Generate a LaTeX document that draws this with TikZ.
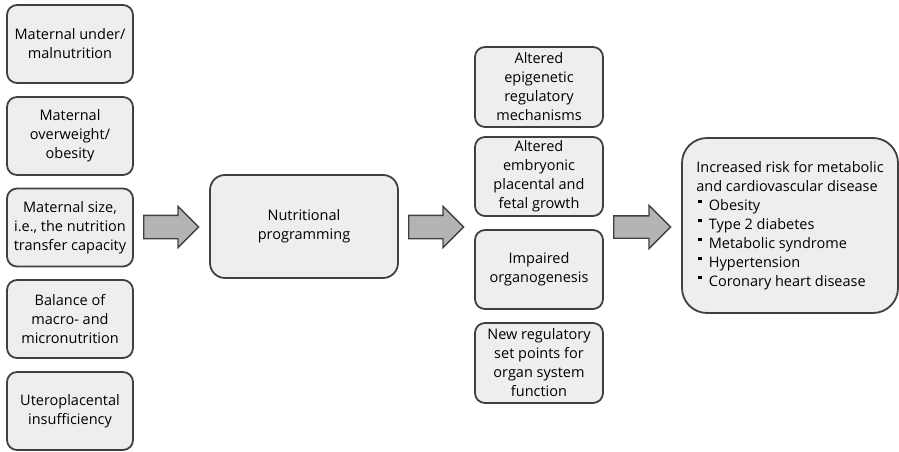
\documentclass[tikz,border=0pt]{standalone}
\usepackage{fontspec}
\setmainfont{Open Sans}
\usetikzlibrary{shapes.arrows}
\definecolor{boxfill}{HTML}{EEEEEE}
\definecolor{boxline}{HTML}{404040}
\definecolor{arrfill}{HTML}{B4B4B4}
\newcommand\mybul{\hspace{2pt}\raisebox{7pt}{\rule{3.5pt}{3.5pt}}\hspace{7pt}}
\begin{document}
\begin{tikzpicture}[x=1pt,y=-1pt,
  box/.style={draw=boxline,line width=1.8pt,fill=boxfill,rounded corners=10pt,
    align=center,inner sep=0pt,font=\fontsize{14.5}{19}\selectfont},
  blockarrow/.style={single arrow,draw=boxline,line width=1.3pt,fill=arrfill,
    inner xsep=0pt,inner ysep=0pt,minimum height=#1,anchor=tail,
    single arrow head extend=9pt,single arrow head indent=0pt,shape border rotate=0}
]
\useasboundingbox (0,0) rectangle (899,452);
% left column
\node[box,minimum width=126pt,minimum height=78pt] (l1) at (70,44) {Maternal under/\\malnutrition};
\node[box,minimum width=126pt,minimum height=78pt] (l2) at (70,136) {Maternal\\overweight/\\obesity};
\node[box,minimum width=126pt,minimum height=78pt] (l3) at (70,227.5) {Maternal size,\\i.e., the nutrition\\transfer capacity};
\node[box,minimum width=126pt,minimum height=78pt] (l4) at (70,319) {Balance of\\macro- and\\micronutrition};
\node[box,minimum width=126pt,minimum height=78pt] (l5) at (70,411) {Uteroplacental\\insufficiency};
% central
\node[box,rounded corners=15pt,minimum width=188pt,minimum height=103pt] (np) at (304,226.5) {Nutritional\\programming};
% middle column
\node[box,minimum width=128pt,minimum height=80pt] (m1) at (539,87) {Altered\\epigenetic\\regulatory\\mechanisms};
\node[box,minimum width=128pt,minimum height=79pt] (m2) at (539,176.5) {Altered\\embryonic\\placental and\\fetal growth};
\node[box,minimum width=128pt,minimum height=79pt] (m3) at (539,269.5) {Impaired\\organogenesis};
\node[box,minimum width=128pt,minimum height=80pt] (m4) at (539,363) {New regulatory\\set points for\\organ system\\function};
% outcome
\node[box,rounded corners=25pt,minimum width=216pt,minimum height=175pt,align=left] (out) at (790,225.5) {%
Increased risk for metabolic\\and cardiovascular disease\\
\mybul Obesity\\\mybul Type 2 diabetes\\\mybul Metabolic syndrome\\\mybul Hypertension\\\mybul Coronary heart disease};
% block arrows
\node[blockarrow=55pt] (a1) at (143,227) {\rule{0pt}{22pt}};
\node[blockarrow=55pt] (a2) at (408,227) {\rule{0pt}{22pt}};
\node[blockarrow=57pt,single arrow head extend=10.5pt] (a3) at (613,227) {\rule{0pt}{21pt}};
\end{tikzpicture}
\end{document}
